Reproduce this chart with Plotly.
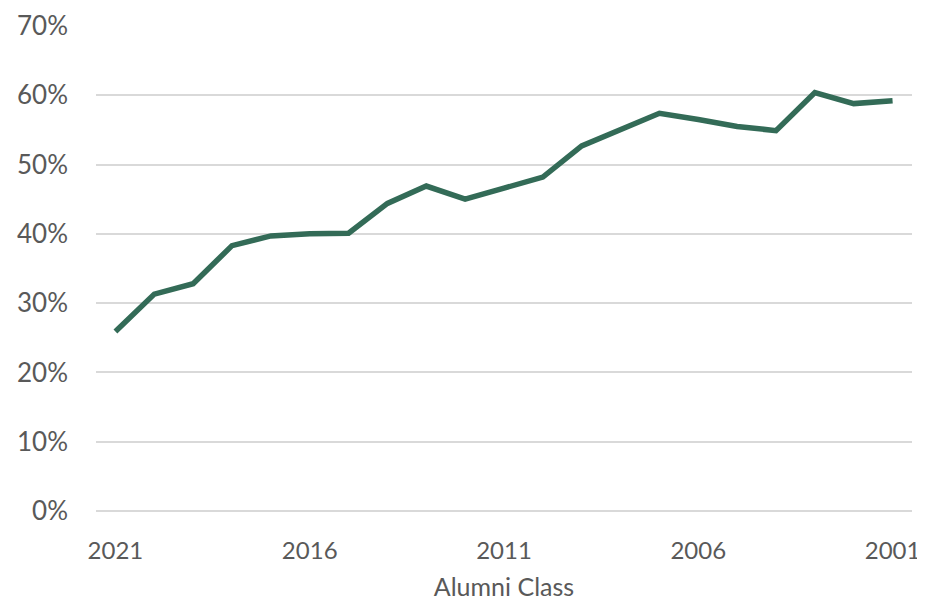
import plotly.graph_objects as go

years = [str(y) for y in range(2021, 2000, -1)]
rates = [0.259, 0.313, 0.328, 0.383, 0.397, 0.400, 0.401, 0.444, 0.469, 0.450,
         0.466, 0.482, 0.527, 0.550, 0.574, 0.565, 0.555, 0.549, 0.604, 0.588, 0.592]
tick_years = ["2021", "2016", "2011", "2006", "2001"]
grey = "#595959"

fig = go.Figure()
fig.add_trace(go.Scatter(x=years, y=rates, mode="lines",
                         line=dict(color="#336b57", width=5.5)))

# page body has an 8px margin, so margins are trimmed on top/left to compensate
fig.update_layout(
    width=925, height=606,
    margin=dict(l=88, r=21, t=18, b=103),
    plot_bgcolor="white", paper_bgcolor="white",
    showlegend=False,
    font=dict(family="Lato", size=25, color=grey),
)
fig.update_xaxes(type="category", categoryorder="array", categoryarray=years,
                 range=[-0.5, len(years) - 0.5], automargin=False,
                 tickmode="array", tickvals=tick_years, ticktext=tick_years,
                 tickfont=dict(size=24),
                 showgrid=False, showline=False, ticks="", ticklabelstandoff=23,
                 title=dict(text="Alumni Class", standoff=15, font=dict(size=25, color=grey)))
fig.update_yaxes(range=[0, 0.7], dtick=0.1, tickformat=".0%", automargin=False,
                 tickfont=dict(size=26),
                 showgrid=True, gridcolor="#d9d9d9", gridwidth=1.5,
                 zeroline=True, zerolinecolor="#d9d9d9", zerolinewidth=1.5,
                 showline=False, ticks="", ticklabelstandoff=27)

fig.write_html("out.html")
